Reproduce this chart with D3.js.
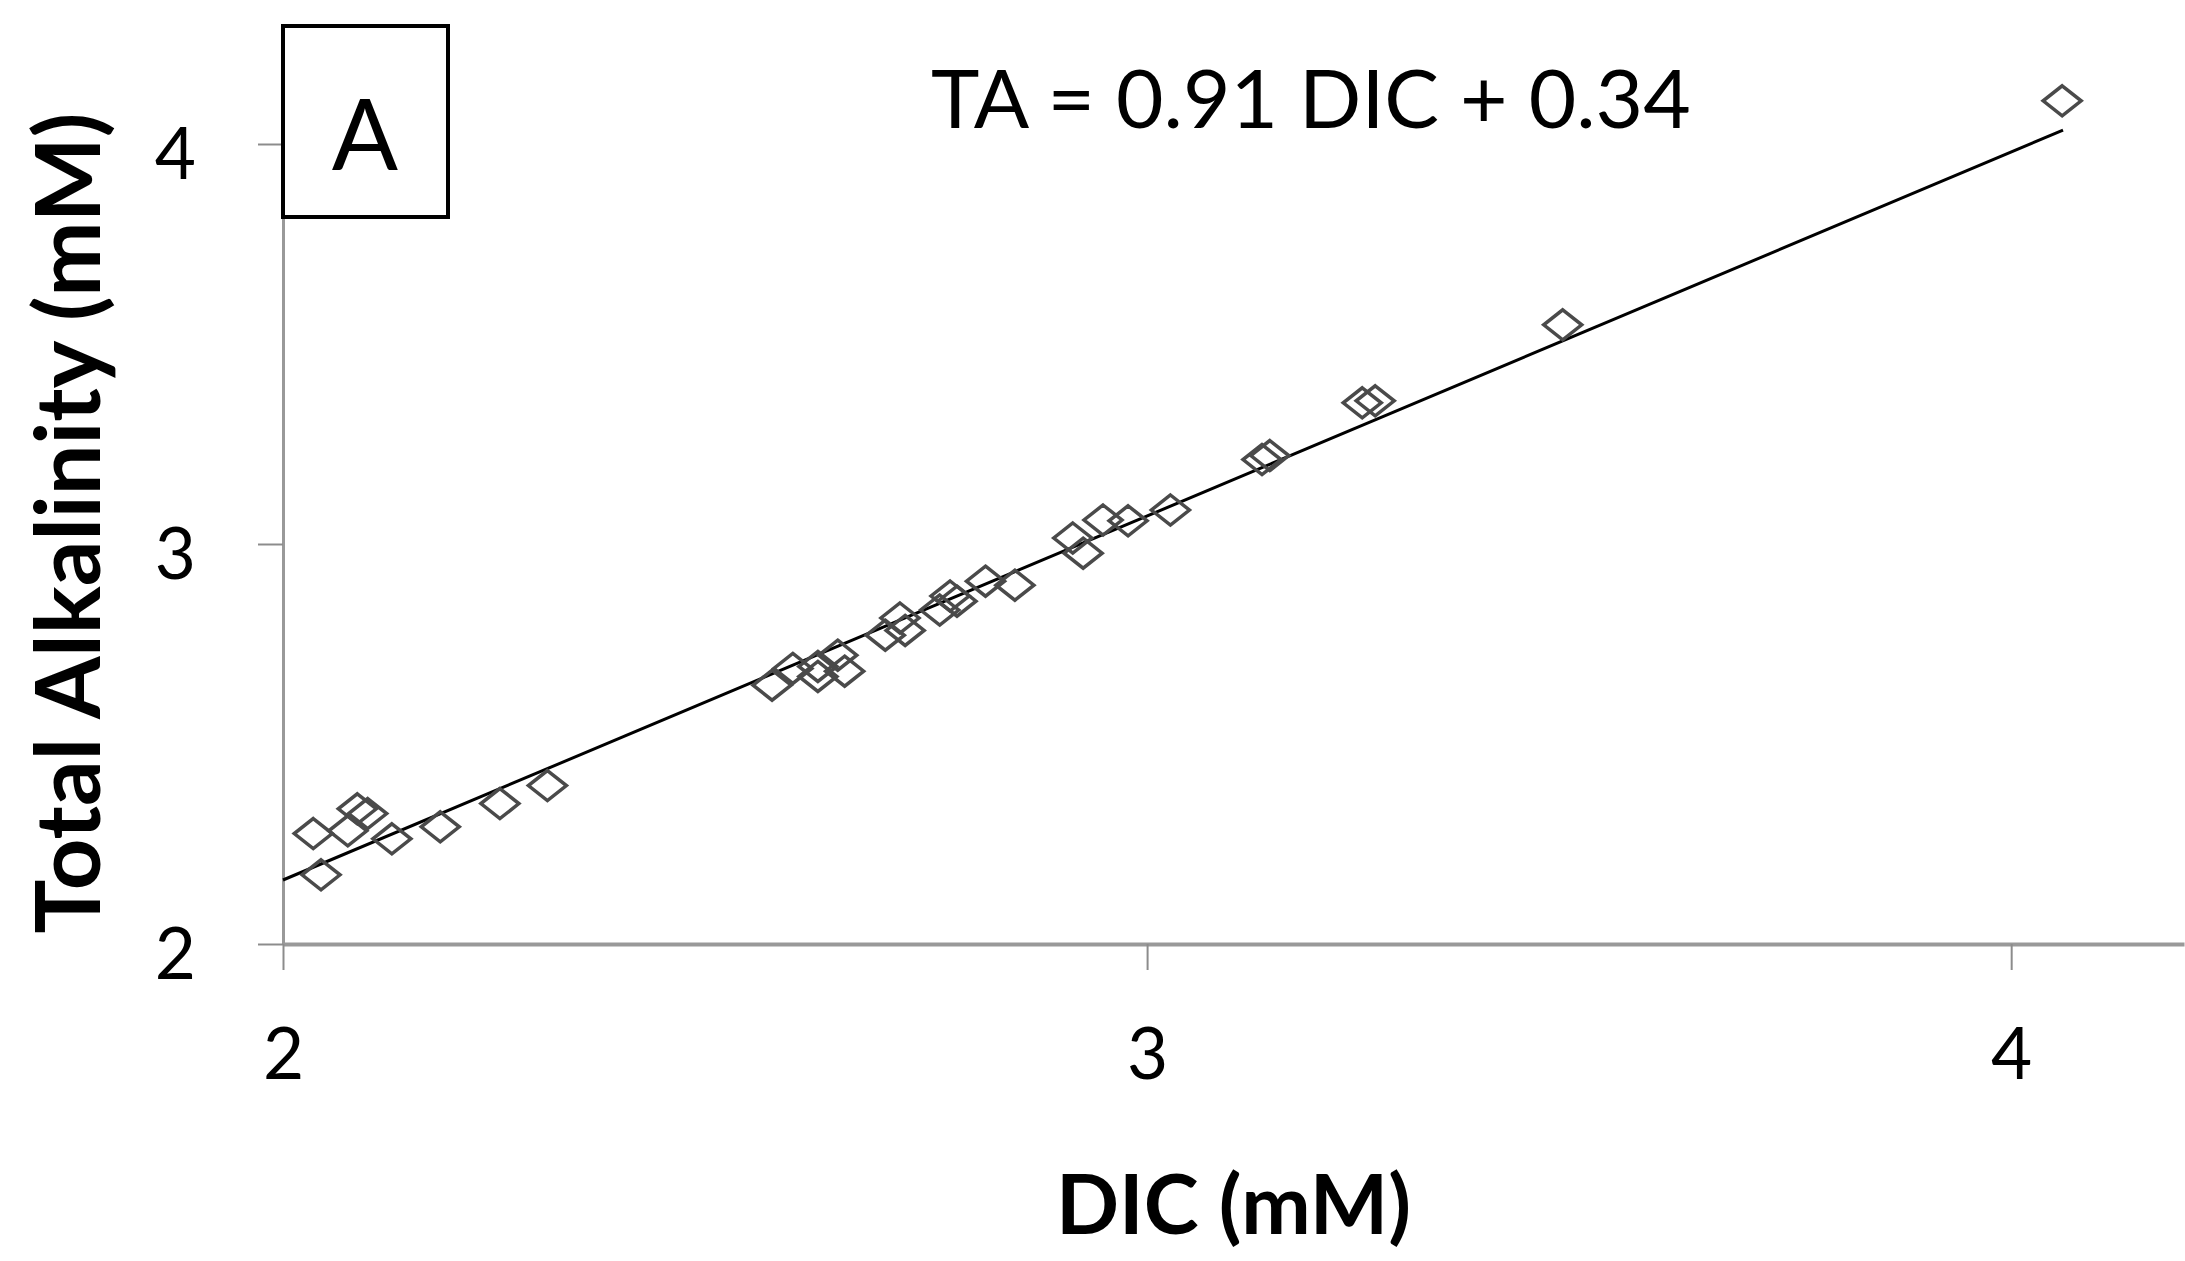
<!DOCTYPE html>
<html>

<head>
  <meta charset="utf-8">
  <script src="https://d3js.org/d3.v7.min.js"></script>
  <title>TA vs DIC</title>
  <style>
    body {
      margin: 0px;
      background: #fff;
      font-family: Lato, sans-serif;
    }

    .tick line {
      stroke: #8c8c8c;
      stroke-width: 2px;
    }

    .tick text {
      fill: #000;
      font-size: 71px;
      font-family: Lato, sans-serif;
    }

    .axis-label {
      fill: #000;
      font-weight: bold;
      font-family: Lato, sans-serif;
    }
  </style>
</head>

<body>
  <svg width="2185" height="1261"></svg>
  <script>

    // data (mM)
    const dic = [2.035, 2.044, 2.075, 2.086, 2.098, 2.126, 2.182, 2.251, 2.306,
      2.566, 2.590, 2.619, 2.619, 2.642, 2.650, 2.697, 2.714, 2.720, 2.760,
      2.772, 2.780, 2.813, 2.847, 2.914, 2.926, 2.949, 2.978, 3.027, 3.133,
      3.142, 3.249, 3.264, 3.481, 4.059];
    const ta = [2.276, 2.173, 2.283, 2.338, 2.326, 2.263, 2.293, 2.351, 2.396,
      2.647, 2.689, 2.694, 2.669, 2.722, 2.682, 2.772, 2.815, 2.784, 2.835,
      2.870, 2.857, 2.907, 2.897, 3.015, 2.977, 3.060, 3.058, 3.085, 3.211,
      3.221, 3.353, 3.358, 3.548, 4.108];
    const xTickValues = [2, 3, 4];
    const yTickValues = [2, 3, 4];
    const slope = 0.91;
    const intercept = 0.34;
    const fitRange = [2.0, 4.06];
    const equation = 'TA = 0.91 DIC + 0.34';
    const panelLabel = 'A';
    const xLabel = 'DIC (mM)';
    const yLabel = 'Total Alkalinity (mM)';

    const svg = d3.select('svg');
    const margin = { left: 283, right: 1, top: 24, bottom: 317 };
    const width = +svg.attr('width');
    const height = +svg.attr('height');
    const innerWidth = width - margin.left - margin.right;
    const innerHeight = height - margin.top - margin.bottom;

    const data = dic.map((d, i) => ({ x: d, y: ta[i] }));

    const xScale = d3.scaleLinear().domain([2, 4.2]).range([0, innerWidth]);
    const yScale = d3.scaleLinear().domain([2, 4.3]).range([innerHeight, 0]);

    const g = svg.append('g')
      .attr('transform', `translate(${margin.left},${margin.top})`);

    //axes
    const xAxisG = g.append('g')
      .attr('transform', `translate(0, ${innerHeight})`)
      .call(d3.axisBottom(xScale).tickValues(xTickValues).tickSize(26).tickSizeOuter(0)
        .tickFormat(d3.format('d')));
    xAxisG.selectAll('.tick text').attr('y', 135).attr('dy', 0);
    xAxisG.select('.domain').attr('stroke', '#999').attr('stroke-width', 4);

    const yAxisG = g.append('g')
      .call(d3.axisLeft(yScale).tickValues(yTickValues).tickSize(25).tickSizeOuter(0)
        .tickFormat(d3.format('d')));
    yAxisG.selectAll('.tick text').attr('x', -87).attr('dy', 34);
    yAxisG.select('.domain').attr('stroke', '#999').attr('stroke-width', 3);
    xAxisG.raise();

    //trend line
    g.append('line')
      .attr('x1', xScale(fitRange[0]))
      .attr('y1', yScale(slope * fitRange[0] + intercept))
      .attr('x2', xScale(fitRange[1]))
      .attr('y2', yScale(slope * fitRange[1] + intercept))
      .attr('stroke', '#000')
      .attr('stroke-width', 3);

    //diamond markers
    const diamond = d => {
      const x = xScale(d.x), y = yScale(d.y);
      return `M${x},${y - 15}L${x + 19},${y}L${x},${y + 15}L${x - 19},${y}Z`;
    };
    g.selectAll('path.pt').data(data)
      .enter().append('path')
      .attr('class', 'pt')
      .attr('d', diamond)
      .attr('fill', 'none')
      .attr('stroke', '#4a4a4a')
      .attr('stroke-width', 3.5);

    //panel label box
    svg.append('rect')
      .attr('x', 283)
      .attr('y', 26)
      .attr('width', 165)
      .attr('height', 191)
      .attr('fill', '#fff')
      .attr('stroke', '#000')
      .attr('stroke-width', 4);

    svg.append('text')
      .attr('x', 365)
      .attr('y', 170)
      .attr('text-anchor', 'middle')
      .style('font-size', '98px')
      .text(panelLabel);

    //equation
    svg.append('text')
      .attr('x', 931)
      .attr('y', 128)
      .style('font-size', '82px')
      .text(equation);

    //axis titles
    svg.append('text')
      .attr('class', 'axis-label')
      .attr('x', margin.left + innerWidth / 2)
      .attr('y', 1234)
      .attr('text-anchor', 'middle')
      .style('font-size', '83px')
      .text(xLabel);

    svg.append('text')
      .attr('class', 'axis-label')
      .attr('transform', 'translate(100, 523) rotate(-90)')
      .attr('text-anchor', 'middle')
      .style('font-size', '90px')
      .text(yLabel);

  </script>
</body>

</html>
